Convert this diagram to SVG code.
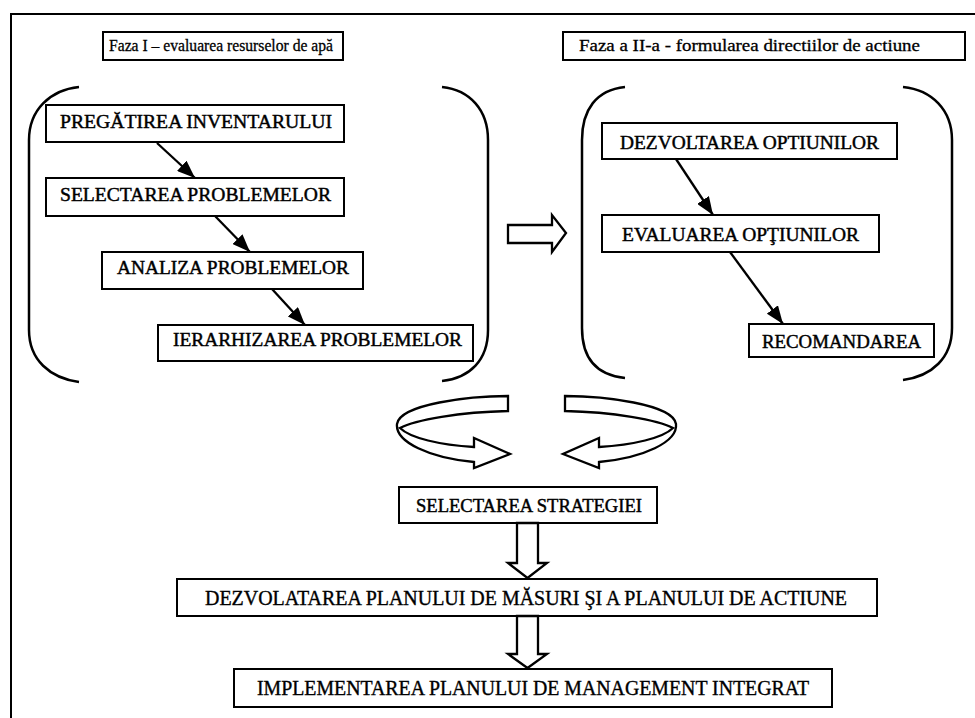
<svg xmlns="http://www.w3.org/2000/svg" width="975" height="718" viewBox="0 0 975 718">
  <style>
    .box { fill: #fff; stroke: #000; stroke-width: 2; }
    .brace { fill: none; stroke: #000; stroke-width: 2.5; }
    .frame { fill: none; stroke: #000; stroke-width: 2; }
    .lbl { font-family: "Liberation Serif", "Times New Roman", serif; font-size: 19px; fill: #000; stroke: #000; stroke-width: 0.45; }
    .ttl { font-family: "Liberation Serif", "Times New Roman", serif; font-size: 17px; fill: #000; stroke: #000; stroke-width: 0.3; }
    .big { font-family: "Liberation Serif", "Times New Roman", serif; font-size: 20px; fill: #000; stroke: #000; stroke-width: 0.35; }
    .link { fill: none; stroke: #000; stroke-width: 2.3; marker-end: url(#head); }
    .hollow { fill: #fff; stroke: #000; stroke-width: 2.3; stroke-linejoin: miter; }
  </style>
  <defs>
    <marker id="head" viewBox="0 0 18 14" refX="18" refY="7" markerWidth="18" markerHeight="14" markerUnits="userSpaceOnUse" orient="auto">
      <path d="M0,0 L18,7 L0,14 Z" fill="#000"/>
    </marker>
  </defs>

  <rect width="975" height="718" fill="#fff"/>

  <!-- page frame: top and left rules -->
  <path class="frame" d="M11,718 L11,14 L975,14"/>

  <!-- phase titles -->
  <g id="title-phase1">
    <rect class="box" x="103" y="32" width="240" height="28"/>
    <text class="ttl" x="109" y="51" textLength="224" lengthAdjust="spacingAndGlyphs">Faza I – evaluarea resurselor de apă</text>
  </g>
  <g id="title-phase2">
    <rect class="box" x="563" y="32" width="402" height="28"/>
    <text class="ttl" x="579" y="51" textLength="341" lengthAdjust="spacingAndGlyphs">Faza a II-a - formularea directiilor de actiune</text>
  </g>

  <!-- brackets around each phase -->
  <g id="bracket-phase1">
    <path class="brace" d="M79,87 C50,90 29,110 29,140 L29,330 C29,360 50,378 79,382"/>
    <path class="brace" d="M442,87 C470,90 488,110 488,140 L488,330 C488,360 470,378 442,381"/>
  </g>
  <g id="bracket-phase2">
    <path class="brace" d="M625,87 C596,90 582,110 582,140 L582,328 C582,358 596,375 625,378"/>
    <path class="brace" d="M903,87 C932,90 952,110 952,140 L952,328 C952,358 932,376 903,380"/>
  </g>

  <!-- phase 1 steps -->
  <g id="pregatirea">
    <rect class="box" x="46" y="105" width="298" height="37"/>
    <text class="lbl" x="60" y="128" textLength="272" lengthAdjust="spacingAndGlyphs">PREGĂTIREA INVENTARULUI</text>
  </g>
  <g id="selectarea-problemelor">
    <rect class="box" x="46" y="178" width="298" height="38"/>
    <text class="lbl" x="60" y="201" textLength="271" lengthAdjust="spacingAndGlyphs">SELECTAREA PROBLEMELOR</text>
  </g>
  <g id="analiza">
    <rect class="box" x="102" y="252" width="261" height="37"/>
    <text class="lbl" x="117" y="274" textLength="232" lengthAdjust="spacingAndGlyphs">ANALIZA PROBLEMELOR</text>
  </g>
  <g id="ierarhizarea">
    <rect class="box" x="158" y="325" width="315" height="36"/>
    <text class="lbl" x="173" y="346" textLength="289" lengthAdjust="spacingAndGlyphs">IERARHIZAREA PROBLEMELOR</text>
  </g>

  <!-- phase 2 steps -->
  <g id="dezvoltarea-optiunilor">
    <rect class="box" x="602" y="123" width="295" height="36"/>
    <text class="lbl" x="620" y="149" textLength="259" lengthAdjust="spacingAndGlyphs">DEZVOLTAREA OPTIUNILOR</text>
  </g>
  <g id="evaluarea-optiunilor">
    <rect class="box" x="602" y="215" width="277" height="37"/>
    <text class="lbl" x="622" y="241" textLength="237" lengthAdjust="spacingAndGlyphs">EVALUAREA OPŢIUNILOR</text>
  </g>
  <g id="recomandarea">
    <rect class="box" x="749" y="324" width="185" height="33"/>
    <text class="lbl" x="762" y="348" textLength="159" lengthAdjust="spacingAndGlyphs">RECOMANDAREA</text>
  </g>

  <!-- strategy and plan chain -->
  <g id="selectarea-strategiei">
    <rect class="box" x="399" y="487" width="258" height="36"/>
    <text class="lbl" x="416" y="512" textLength="226" lengthAdjust="spacingAndGlyphs">SELECTAREA STRATEGIEI</text>
  </g>
  <g id="planul-de-masuri">
    <rect class="box" x="177" y="579" width="700" height="37"/>
    <text class="big" x="205" y="605" textLength="642" lengthAdjust="spacingAndGlyphs">DEZVOLATAREA PLANULUI DE MĂSURI ŞI A PLANULUI DE ACTIUNE</text>
  </g>
  <g id="implementarea">
    <rect class="box" x="234" y="669" width="598" height="38"/>
    <text class="big" x="257" y="695" textLength="552" lengthAdjust="spacingAndGlyphs">IMPLEMENTAREA PLANULUI DE MANAGEMENT INTEGRAT</text>
  </g>

  <!-- connectors -->
  <g id="connectors">
    <line class="link" x1="157" y1="143" x2="195" y2="178"/>
    <line class="link" x1="215" y1="216" x2="250" y2="252"/>
    <line class="link" x1="272" y1="289" x2="305" y2="325"/>
    <line class="link" x1="676" y1="159" x2="713" y2="215"/>
    <line class="link" x1="730" y1="252" x2="783" y2="324"/>

    <!-- phase 1 to phase 2 -->
    <path class="hollow" d="M508,225 L552,225 L552,215 L566,233 L552,252 L552,243 L508,243 Z"/>

    <!-- feedback loop between the phases -->
    <path id="loop-left" class="hollow" d="M508,396 C470,396 400,404 397,424 C395,442 430,458 474,462 L474,468 L510,454 L474,438 L474,447 C440,445 410,438 400,428 C415,420 460,412 508,411 Z"/>
    <use href="#loop-left" transform="translate(1073,0) scale(-1,1)"/>

    <!-- downward flow -->
    <path class="hollow" d="M517,523 L538,523 L538,563 L547,563 L527.5,578 L508,563 L517,563 Z"/>
    <path class="hollow" d="M517,616 L538,616 L538,654 L547,654 L527.5,668 L508,654 L517,654 Z"/>
  </g>
</svg>
